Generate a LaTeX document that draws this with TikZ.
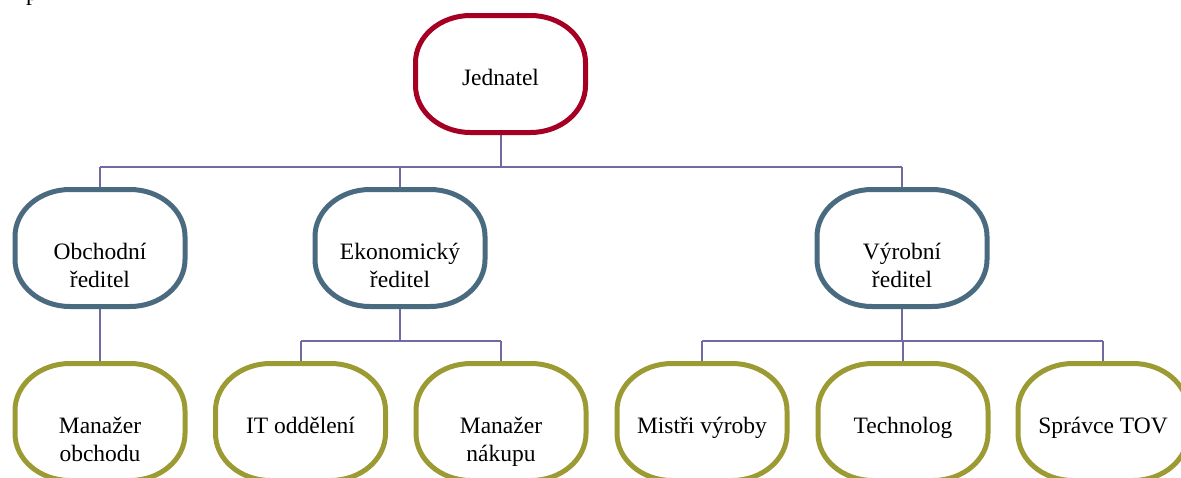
\documentclass[tikz,border=0pt]{standalone}
\usepackage{fontspec}
\setmainfont{Liberation Serif}
\usetikzlibrary{backgrounds}
\definecolor{headred}{RGB}{165,0,36}
\definecolor{midblue}{RGB}{74,106,128}
\definecolor{leafolive}{RGB}{156,154,50}
\definecolor{linkviolet}{RGB}{112,106,160}
% outline of a box: flat sides joined by elliptical corners
\newcommand\orgoutline[2]{%
  \draw[line width=5pt, draw=#2]
    ([xshift=55pt]#1.north west) -- ([xshift=-55pt]#1.north east)
    arc[start angle=90, end angle=0, x radius=55pt, y radius=47pt]
    -- ([yshift=47pt]#1.south east)
    arc[start angle=0, end angle=-90, x radius=55pt, y radius=47pt]
    -- ([xshift=55pt]#1.south west)
    arc[start angle=-90, end angle=-180, x radius=55pt, y radius=47pt]
    -- ([yshift=-47pt]#1.north west)
    arc[start angle=180, end angle=90, x radius=55pt, y radius=47pt]
    -- cycle;}
\begin{document}
\begin{tikzpicture}[x=1pt,y=-1pt,
  orgbox/.style={minimum width=170pt, minimum height=117pt,
    inner sep=0pt, outer sep=0pt,
    align=center, text height=22pt, text depth=0pt,
    font=\fontsize{23.5}{27.5}\selectfont},
  twoline/.style={text height=78pt},
  link/.style={draw=linkviolet, line width=2pt}]
\useasboundingbox (0,0) rectangle (1181,477);

% descender of a line of text above the chart
\node[anchor=base west, inner sep=0pt, font=\fontsize{23.5}{27.5}\selectfont] (prev) at (26,0) {p};

% boxes
\node[orgbox] (jd) at (500.5,74) {Jednatel};

\node[orgbox, twoline] (ob) at (100,248) {Obchodní\\ředitel};
\node[orgbox, twoline] (ek) at (400,248) {Ekonomický\\ředitel};
\node[orgbox, twoline] (vy) at (902,248) {Výrobní\\ředitel};

\node[orgbox, twoline] (mo) at (100,422) {Manažer\\obchodu};
\node[orgbox] (it) at (300.5,422) {IT oddělení};
\node[orgbox, twoline] (mn) at (501,422) {Manažer\\nákupu};
\node[orgbox] (mv) at (702,422) {Mistři výroby};
\node[orgbox] (te) at (903,422) {Technolog};
\node[orgbox] (st) at (1103,422) {Správce TOV};

\orgoutline{jd}{headred}
\orgoutline{ob}{midblue}
\orgoutline{ek}{midblue}
\orgoutline{vy}{midblue}
\foreach \n in {mo,it,mn,mv,te,st}{\orgoutline{\n}{leafolive}}

% connectors, kept behind the box outlines
\coordinate (topbus) at (500.5,166.5);
\coordinate (ekbus) at (400,341);
\coordinate (vybus) at (902,341);
\begin{scope}[on background layer]
\path[link] (jd.south) -- (topbus);
\path[link] (topbus -| ob.north) -- (topbus -| vy.north);
\path[link] (topbus -| ob.north) -- (ob.north);
\path[link] (topbus -| ek.north) -- (ek.north);
\path[link] (topbus -| vy.north) -- (vy.north);

\path[link] (ob.south) -- (mo.north);

\path[link] (ek.south) -- (ekbus);
\path[link] (ekbus -| it.north) -- (ekbus -| mn.north);
\path[link] (ekbus -| it.north) -- (it.north);
\path[link] (ekbus -| mn.north) -- (mn.north);

\path[link] (vy.south) -- (vybus);
\path[link] (vybus -| mv.north) -- (vybus -| st.north);
\path[link] (vybus -| mv.north) -- (mv.north);
\path[link] (vybus -| te.north) -- (te.north);
\path[link] (vybus -| st.north) -- (st.north);
\end{scope}
\end{tikzpicture}
\end{document}
